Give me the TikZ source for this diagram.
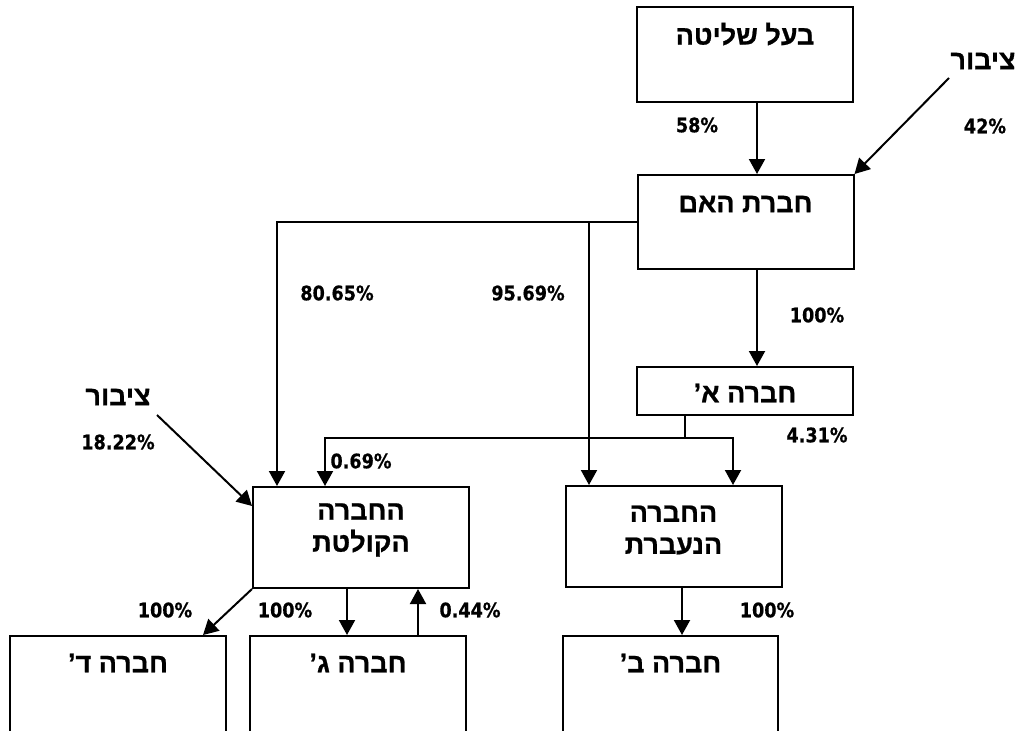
\documentclass[tikz,border=0pt]{standalone}
\usepackage{fontspec}
\newfontfamily\hebfont[Script=Hebrew,FakeBold=0.8]{Liberation Sans Bold}
\newfontfamily\numfont[FakeStretch=0.88,FakeBold=0.6]{DejaVu Sans Bold}
\TeXXeTstate=1
\usetikzlibrary{arrows.meta,calc}
\begin{document}
\begin{tikzpicture}[x=1pt,y=-1pt,
  box/.style={draw=black, line width=2pt, inner sep=0pt, minimum width=216pt},
  heb/.style={font=\hebfont\fontsize{27}{32}\selectfont, inner sep=0pt, align=center},
  pct/.style={font=\numfont\fontsize{20}{22}\selectfont, inner sep=0pt},
  conn/.style={line width=2pt},
  arr/.style={conn, -{Triangle[width=16pt,length=15pt]}}]
\useasboundingbox (0,0) rectangle (1018,731);
\clip (0,0) rectangle (1018,731);
% boxes
\node[box, minimum height=95pt] (A) at (745,54.5) {};
\node[box, minimum height=94pt] (M) at (745.5,222) {};
\node[box, minimum height=48pt] (Al) at (745,391) {};
\node[box, minimum height=101pt] (K) at (361,537.5) {};
\node[box, minimum height=101pt] (N) at (673.5,536.5) {};
\node[box, minimum height=130pt] (D) at (118,701) {};
\node[box, minimum height=130pt] (G) at (358,701) {};
\node[box, minimum height=130pt, minimum width=215pt] (B) at (670.5,701) {};
% box texts
\node[heb] (At) at (745,34) {\beginR בעל שליטה\endR};
\node[heb] (Mt) at (745.5,204) {\beginR חברת האם\endR};
\node[heb] (Alt) at (745,393) {\beginR חברה א’\endR};
\node[heb] (Kt) at (361,530) {\beginR החברה\endR\\\beginR הקולטת\endR};
\node[heb] (Nt) at (673.5,530) {\beginR החברה\endR\\\beginR הנעברת\endR};
\node[heb] (Dt) at (118,663) {\beginR חברה ד’\endR};
\node[heb] (Gt) at (358,663) {\beginR חברה ג’\endR};
\node[heb] (Bt) at (670.5,663) {\beginR חברה ב’\endR};
\node[heb] (P1) at (983,61) {\beginR ציבור\endR};
\node[heb] (P2) at (118,397) {\beginR ציבור\endR};
% percentages
\node[pct] (l58) at (697,125) {58\%};
\node[pct] (l42) at (985,126) {42\%};
\node[pct] (l8065) at (337,293) {80.65\%};
\node[pct] (l9569) at (528,293) {95.69\%};
\node[pct] (l100a) at (817,315) {100\%};
\node[pct] (l431) at (817,435) {4.31\%};
\node[pct] (l069) at (361,461) {0.69\%};
\node[pct] (l1822) at (118,442) {18.22\%};
\node[pct] (l100d) at (165,610) {100\%};
\node[pct] (l100g) at (285,610) {100\%};
\node[pct] (l044) at (470,610) {0.44\%};
\node[pct] (l100b) at (767,610) {100\%};
% helper coordinates
\coordinate (xa) at (757,0);
\coordinate (xk) at (277,0);
\coordinate (xn) at (589,0);
\coordinate (j) at (685,438);
\coordinate (xk2) at (325,0);
\coordinate (xn2) at (733,0);
\coordinate (xd) at (203,0);
\coordinate (xg) at (347,0);
\coordinate (xg2) at (418,0);
\coordinate (xb) at (682,0);
\coordinate (s1) at (949,78);
\coordinate (s2) at (157,415);
% connectors
\draw[arr] (A.south -| xa) -- (M.north -| xa);
\draw[arr] (s1) -- (M.north east);
\draw[arr] (M.west) -| (K.north -| xk);
\draw[arr] (M.west -| xn) -- (N.north -| xn);
\draw[arr] (M.south -| xa) -- (Al.north -| xa);
\draw[conn] (Al.south -| j) -- (j);
\draw[arr] (j) -| (K.north -| xk2);
\draw[arr] (j) -| (N.north -| xn2);
\draw[arr] (s2) -- ($(K.north west)+(0,20)$);
\draw[arr] (K.south west) -- (D.north -| xd);
\draw[arr] (K.south -| xg) -- (G.north -| xg);
\draw[arr] (G.north -| xg2) -- (K.south -| xg2);
\draw[arr] (N.south -| xb) -- (B.north -| xb);
\end{tikzpicture}
\end{document}
